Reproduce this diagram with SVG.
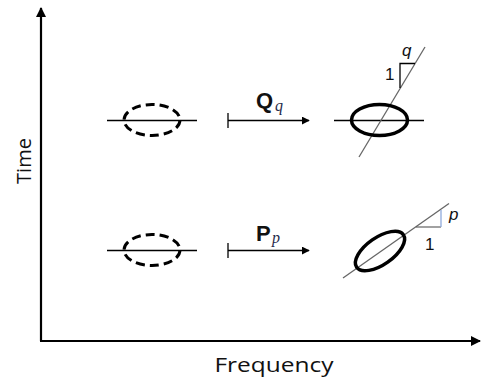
<svg xmlns="http://www.w3.org/2000/svg" width="484" height="379" viewBox="0 0 484 379">
<defs>
<style>
.axis{stroke:#000;stroke-width:2.2;fill:none}
.thin{stroke:#000;stroke-width:1.3;fill:none}
.dash{stroke:#000;stroke-width:3;fill:none;stroke-dasharray:9,5}
.solid{stroke:#000;stroke-width:3.5;fill:none}
.slant{stroke:#666;stroke-width:1.3;fill:none}
.lbl{font-family:"Open Sans","Noto Sans",sans-serif;font-size:20px;fill:#111}
.op{font-family:"Liberation Sans",Arial,sans-serif;font-weight:bold;font-size:22px;fill:#111}
.sub{font-family:"Liberation Serif","Times New Roman",serif;font-style:italic;font-size:16px;fill:#1f2a4a}
.num{font-family:"Liberation Sans",Arial,sans-serif;font-size:17px;fill:#111}
.var{font-family:"Liberation Sans",Arial,sans-serif;font-style:italic;font-size:17px;fill:#111}
</style>
<marker id="ah" viewBox="0 0 10 10" refX="9" refY="5" markerWidth="8" markerHeight="8" markerUnits="userSpaceOnUse" orient="auto">
<path d="M0,0 L10,5 L0,10 Z" fill="#000"/>
</marker>
<marker id="ax" viewBox="0 0 10 10" refX="9" refY="5" markerWidth="10" markerHeight="10" markerUnits="userSpaceOnUse" orient="auto">
<path d="M0,0 L10,5 L0,10 Z" fill="#000"/>
</marker>
</defs>
<rect width="484" height="379" fill="#fff"/>

<g id="axes">
<line class="axis" x1="41" y1="341" x2="41" y2="8" marker-end="url(#ax)"/>
<line class="axis" x1="40" y1="341" x2="480" y2="341" marker-end="url(#ax)"/>
<text class="lbl" transform="translate(31,161) rotate(-90)" text-anchor="middle">Time</text>
<text class="lbl" x="274" y="372" text-anchor="middle" textLength="119" lengthAdjust="spacingAndGlyphs">Frequency</text>
</g>

<g id="orig-top">
<line class="thin" x1="107" y1="120.5" x2="197" y2="120.5"/>
<ellipse class="dash" cx="152" cy="120" rx="28" ry="15.5"/>
</g>

<g id="orig-bottom">
<line class="thin" x1="107" y1="250.5" x2="197" y2="250.5"/>
<ellipse class="dash" cx="152" cy="250" rx="28" ry="15.5"/>
</g>

<g id="connectors">
<g id="op-Q">
<line class="thin" x1="228" y1="113" x2="228" y2="128"/>
<line class="thin" x1="228" y1="120.5" x2="309" y2="120.5" marker-end="url(#ah)"/>
<text class="op" x="256" y="108">Q</text>
<text class="sub" x="275" y="111">q</text>
</g>
<g id="op-P">
<line class="thin" x1="228" y1="243" x2="228" y2="258"/>
<line class="thin" x1="228" y1="250.5" x2="309" y2="250.5" marker-end="url(#ah)"/>
<text class="op" x="256" y="241">P</text>
<text class="sub" x="272" y="243">p</text>
</g>
</g>

<g id="result-top">
<line class="thin" x1="334" y1="120.5" x2="424" y2="120.5"/>
<line class="slant" x1="359" y1="157" x2="425" y2="47"/>
<polyline class="thin" points="400,88 400,63.5 415,63.5" stroke-width="1.1"/>
<ellipse class="solid" cx="379.5" cy="120" rx="28" ry="15.5"/>
<text class="num" x="385" y="80">1</text>
<text class="var" x="402" y="56">q</text>
</g>

<g id="result-bottom">
<line class="slant" x1="343" y1="278" x2="449" y2="203.5"/>
<line stroke="#555" stroke-width="1.1" x1="416" y1="227" x2="441" y2="227"/>
<line stroke="#8faadc" stroke-width="1.3" x1="441" y1="227" x2="441" y2="210"/>
<ellipse class="solid" cx="380" cy="251" rx="28.5" ry="13.5" transform="rotate(-35 380 251)"/>
<text class="num" x="425" y="250">1</text>
<text class="var" x="449" y="220">p</text>
</g>
</svg>
